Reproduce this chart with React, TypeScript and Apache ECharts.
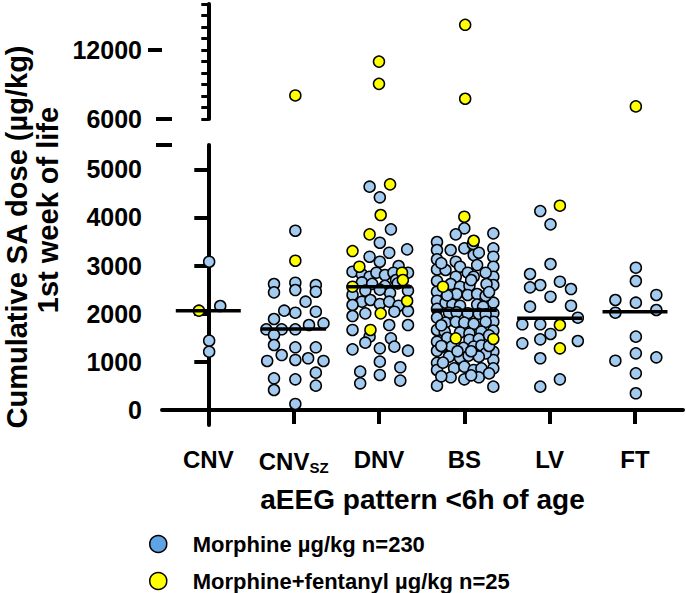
import React, { useEffect, useRef } from 'react';
import * as echarts from 'echarts';

// ---- data (offset within category, value in µg/kg) ----
const categoryLabels = ['CNV', 'CNV_SZ', 'DNV', 'BS', 'LV', 'FT'];

const cnvMorphine = [[0.01, 3080], [0.14, 2160], [0.01, 1440], [0.01, 1211]];
const cnvFentanyl = [[-0.11, 2063]];

const cnvszMorphine = [
  [0.02, 3724], [-0.23, 2617], [-0.23, 2444], [0.02, 2644], [0.02, 2492], [0.26, 2596], [0.26, 2457],
  [0.14, 2250], [-0.11, 2063], [0.02, 2021], [0.26, 2042], [-0.23, 1890], [0.35, 1801], [0.18, 1765],
  [-0.32, 1676], [-0.14, 1676], [0.02, 1676], [-0.23, 1558], [-0.23, 1350], [-0.14, 1142], [0.02, 1302],
  [0.26, 1302], [0.17, 1074], [-0.31, 1018], [0.02, 1039], [0.35, 1018], [0.26, 775], [-0.23, 658],
  [0.02, 637], [0.26, 505], [-0.23, 415], [0.02, 125],
];
const cnvszFentanyl = [[0.02, 3101], [0.02, 8048]];

const dnvMorphine = [
  [-0.11, 4639], [0.01, 4418], [0.14, 3753], [0.01, 3475], [0.12, 3267], [0.33, 3337], [-0.11, 3184],
  [0.01, 3080], [0.23, 2991], [-0.31, 2873], [-0.2, 2818], [-0.11, 2769], [-0.03, 2852], [0.07, 2804],
  [0.17, 2852], [0.34, 2852], [0.2, 2700], [-0.2, 2650], [-0.08, 2620], [0.07, 2580], [0.22, 2630],
  [-0.16, 2480], [0.13, 2430], [0.01, 2500], [0.34, 2480], [-0.31, 2389], [-0.2, 2250], [-0.1, 2285],
  [0.01, 2202], [0.12, 2250], [0.23, 2166], [-0.31, 2181], [-0.31, 1952], [-0.16, 2008], [0.18, 2042],
  [0.34, 2056], [0.12, 1765], [0.34, 1765], [-0.31, 1662], [-0.11, 1523], [-0.16, 1398], [0.14, 1489],
  [0.01, 1281], [-0.31, 1260], [0.18, 1316], [0.34, 1232], [0.01, 1004], [0.25, 887], [-0.22, 796],
  [0.01, 727], [-0.22, 554], [0.25, 609],
];
const dnvFentanyl = [
  [0.13, 4688], [0.02, 4050], [-0.11, 3649], [-0.31, 3302], [-0.23, 2976], [0.27, 2852], [0.28, 2700],
  [-0.31, 2561], [0.33, 2264], [0.02, 2008], [-0.1, 1662], [0, 10990], [0, 9058],
];

const bsMorphine = [
  [-0.32, 3490], [-0.32, 3323], [-0.32, 3130], [-0.32, 2920], [-0.32, 2680], [-0.32, 2457], [-0.32, 2270],
  [-0.32, 2100], [-0.32, 1920], [-0.32, 1662], [-0.32, 1419], [-0.32, 1230], [-0.32, 980], [-0.32, 831],
  [-0.32, 505],
  [0.34, 3670], [0.34, 3358], [0.34, 3184], [0.34, 2976], [0.34, 2769], [0.34, 2596], [0.34, 2229],
  [0.34, 2008], [0.34, 1834], [0.34, 1648], [0.34, 1211], [0.34, 1039], [0.34, 866], [0.34, 485],
  [0, 3774], [-0.1, 3649], [-0.16, 3323], [0, 3358], [0.11, 3219], [0.17, 3267], [-0.1, 3080], [0.15, 3011],
  [-0.22, 2908], [-0.05, 2976], [0.04, 2852], [0.25, 2852], [-0.1, 2769], [0.11, 2769], [-0.16, 2617],
  [-0.05, 2561], [0.06, 2582], [0.26, 2617], [-0.09, 2409], [0.04, 2389], [0.15, 2409], [0.25, 2368],
  [-0.22, 2229], [-0.14, 2190], [-0.05, 2166], [0.15, 2190], [0.22, 2146], [-0.18, 2021], [-0.09, 2030],
  [0.04, 2010], [0.17, 2000], [0.25, 1990], [-0.22, 1814], [-0.1, 1830], [0, 1814], [0.11, 1790],
  [0.25, 1830], [-0.23, 1627], [-0.05, 1610], [0.06, 1590], [0.2, 1627], [-0.2, 1500], [0.06, 1460],
  [0.17, 1480], [-0.25, 1316], [-0.15, 1316], [-0.01, 1290], [0.11, 1316], [0.2, 1340], [0.25, 1177],
  [-0.18, 1108], [-0.05, 1080], [0.05, 1130], [0.17, 1108], [-0.25, 983], [-0.12, 866], [0, 900],
  [0.11, 831], [0.2, 866], [-0.16, 679], [0, 637], [0.17, 679], [0.08, 720],
  [-0.27, 3050], [0.29, 2450], [-0.27, 1760], [0.29, 1550], [-0.27, 1330], [0.29, 1330], [0.08, 2700],
  [-0.2, 2380], [0.08, 1220], [-0.08, 1220], [0.29, 760], [-0.27, 700], [0.1, 3450],
];
const bsFentanyl = [[0.01, 14192], [0.01, 7760], [0, 4015], [0.11, 3516], [-0.25, 2561], [-0.1, 1489], [0.34, 1475]];

const lvMorphine = [
  [-0.11, 4133], [0.01, 3857], [0.01, 3032], [-0.23, 2825], [-0.11, 2596], [-0.23, 2548], [0.12, 2665],
  [0.25, 2513], [0.01, 2353], [-0.23, 2146], [0.25, 2166], [0.33, 1917], [-0.32, 1780], [-0.11, 1780],
  [0.01, 1579], [-0.32, 1385], [-0.11, 1468], [0.33, 1433], [-0.11, 1074], [-0.11, 485], [0.12, 637],
];
const lvFentanyl = [[0.12, 4244], [0.12, 1765], [0.12, 1281]];

const ftMorphine = [
  [0.01, 2956], [0.01, 2679], [-0.23, 2285], [0.25, 2389], [0.01, 2229], [-0.23, 2021], [0.25, 2077],
  [0.01, 1523], [0.01, 1177], [-0.23, 1024], [0.25, 1094], [0.01, 762], [0.01, 347],
];
const ftFentanyl = [[0.01, 7096]];

const medians = [2063, 1683, 2561, 2070, 1904, 2042];

const lowerTicks = [0, 1000, 2000, 3000, 4000, 5000];
const upperMinorTicks = [6000, 7000, 8000, 9000, 10000, 11000, 12000, 13000, 14000, 15000, 16000];
const upperMajorTicks = [12000];
const upperLabels = [6000, 12000];

const morphineName = 'Morphine µg/kg n=230';
const fentanylName = 'Morphine+fentanyl µg/kg n=25';

// ---- axis ranges ----
const LOWER_MIN = -312;
const LOWER_MAX = 5505;
const UPPER_MIN = 6000;
const UPPER_MAX = 16000;
const X_MIN = -0.5425;
const X_MAX = 5.5625;

const FONT = '"Liberation Sans", Arial, Helvetica, sans-serif';

function split(groups: number[][][]) {
  const lower: number[][] = [];
  const upper: number[][] = [];
  groups.forEach((g, i) =>
    g.forEach(([o, v]) => (v > LOWER_MAX ? upper : lower).push([i + o, v]))
  );
  return { lower, upper };
}

export default function App() {
  const ref = useRef<HTMLDivElement>(null);
  useEffect(() => {
    if (!ref.current) return;
    const chart = echarts.init(ref.current, undefined, { renderer: 'svg' });
    const morph = split([cnvMorphine, cnvszMorphine, dnvMorphine, bsMorphine, lvMorphine, ftMorphine]);
    const fent = split([cnvFentanyl, cnvszFentanyl, dnvFentanyl, bsFentanyl, lvFentanyl, ftFentanyl]);

    const dotStyleBlue = { color: '#A3CBF0', borderColor: '#000', borderWidth: 1.5, opacity: 1 };
    const dotStyleYellow = { color: '#FFFF00', borderColor: '#000', borderWidth: 1.5, opacity: 1 };
    const axisLineStyle = { color: '#000', width: 4 };
    const yLabel = (values: number[]) => ({
      show: true,
      customValues: values,
      margin: 20,
      color: '#000',
      fontSize: 25,
      fontWeight: 'bold',
      fontFamily: FONT,
      formatter: (v: number) => String(v),
    });
    const SYM = 11;

    chart.setOption({
      animation: false,
      backgroundColor: '#fff',
      grid: [
        { left: 162, right: 3, top: 4, height: 115 },
        { left: 162, right: 3, top: 145, height: 280 },
      ],
      xAxis: [
        { gridIndex: 0, type: 'value', min: X_MIN, max: X_MAX, show: false },
        {
          gridIndex: 1, type: 'value', min: X_MIN, max: X_MAX,
          axisLine: { show: true, lineStyle: axisLineStyle },
          axisTick: { show: true, customValues: [0, 1, 2, 3, 4, 5], length: 14, lineStyle: { color: '#000', width: 4 } },
          axisLabel: {
            color: '#000', fontSize: 24, fontWeight: 'bold', fontFamily: FONT,
            customValues: [0, 1, 2, 3, 4, 5],
            margin: 22,
            formatter: (v: number) => {
              const s = categoryLabels[Math.round(v)];
              return s.includes('_') ? s.split('_')[0] + '{sub|' + s.split('_')[1] + '}' : s;
            },
            rich: { sub: { fontSize: 15, fontWeight: 'bold', fontFamily: FONT, color: '#000', padding: [13, 0, 0, 0] } },
          },
          splitLine: { show: false },
          name: 'aEEG pattern <6h of age',
          nameLocation: 'middle',
          nameGap: 60,
          nameTextStyle: { color: '#000', fontSize: 28, fontWeight: 'bold', fontFamily: FONT },
        },
      ],
      yAxis: [
        {
          gridIndex: 0, type: 'value', min: UPPER_MIN, max: UPPER_MAX, position: 'left',
          axisLine: { show: true, lineStyle: axisLineStyle },
          axisTick: { show: true, customValues: upperMinorTicks, length: 7, lineStyle: { color: '#000', width: 3 } },
          axisLabel: { show: false },
          splitLine: { show: false },
        },
        {
          gridIndex: 0, type: 'value', min: UPPER_MIN, max: UPPER_MAX, position: 'left',
          axisLine: { show: false },
          axisTick: { show: true, customValues: upperMajorTicks, length: 14, lineStyle: { color: '#000', width: 4 } },
          axisLabel: yLabel(upperLabels),
          splitLine: { show: false },
        },
        {
          gridIndex: 1, type: 'value', min: LOWER_MIN, max: LOWER_MAX, position: 'left',
          axisLine: { show: true, lineStyle: axisLineStyle },
          axisTick: { show: true, customValues: lowerTicks, length: 14, lineStyle: { color: '#000', width: 4 } },
          axisLabel: yLabel(lowerTicks),
          splitLine: { show: false },
        },
      ],
      legend: {
        orient: 'vertical', left: 149, top: 533, icon: 'circle', itemWidth: 17, itemHeight: 17, itemGap: 15,
        padding: 0,
        textStyle: { color: '#000', fontSize: 22, fontWeight: 'bold', fontFamily: FONT, padding: [0, 0, 0, 21] },
        itemStyle: { borderColor: '#000', borderWidth: 1.5 },
        data: [
          { name: morphineName, itemStyle: { color: '#5FA2E6' } },
          { name: fentanylName, itemStyle: { color: '#FFFF00' } },
        ],
      },
      series: [
        { name: morphineName, type: 'scatter', xAxisIndex: 1, yAxisIndex: 2, data: morph.lower, symbolSize: SYM, itemStyle: dotStyleBlue, z: 2 },
        { name: morphineName, type: 'scatter', xAxisIndex: 0, yAxisIndex: 0, data: morph.upper, symbolSize: SYM, itemStyle: dotStyleBlue, z: 2 },
        { name: fentanylName, type: 'scatter', xAxisIndex: 1, yAxisIndex: 2, data: fent.lower, symbolSize: SYM, itemStyle: dotStyleYellow, z: 3 },
        { name: fentanylName, type: 'scatter', xAxisIndex: 0, yAxisIndex: 0, data: fent.upper, symbolSize: SYM, itemStyle: dotStyleYellow, z: 3 },
        {
          name: 'Median', type: 'scatter', xAxisIndex: 1, yAxisIndex: 2, symbol: 'rect', symbolSize: [65, 3.5],
          data: medians.map((m, i) => [i, m]), itemStyle: { color: '#000', opacity: 1 }, z: 4, silent: true,
        },
      ],
    });

    const lowTop = chart.convertToPixel({ xAxisIndex: 1, yAxisIndex: 2 }, [X_MIN, LOWER_MAX]) as number[];
    const upBottom = chart.convertToPixel({ xAxisIndex: 0, yAxisIndex: 0 }, [X_MIN, UPPER_MIN]) as number[];
    chart.setOption({
      graphic: [
        { type: 'line', shape: { x1: lowTop[0] - 6, y1: lowTop[1], x2: lowTop[0] + 10, y2: lowTop[1] }, style: { stroke: '#000', lineWidth: 4 } },
        { type: 'line', shape: { x1: upBottom[0] - 6, y1: upBottom[1], x2: upBottom[0] + 10, y2: upBottom[1] }, style: { stroke: '#000', lineWidth: 4 } },
        {
          type: 'text', x: 17, y: 237, rotation: Math.PI / 2,
          style: { text: 'Cumulative SA dose (µg/kg)', fill: '#000', fontSize: 29, fontWeight: 'bold', fontFamily: FONT, align: 'center', verticalAlign: 'middle' },
        },
        {
          type: 'text', x: 48, y: 210, rotation: Math.PI / 2,
          style: { text: '1st week of life', fill: '#000', fontSize: 29, fontWeight: 'bold', fontFamily: FONT, align: 'center', verticalAlign: 'middle' },
        },
      ],
    });

    return () => chart.dispose();
  }, []);
  return <div ref={ref} style={{ position: 'fixed', left: 0, top: 0, width: 686, height: 593 }} />;
}
